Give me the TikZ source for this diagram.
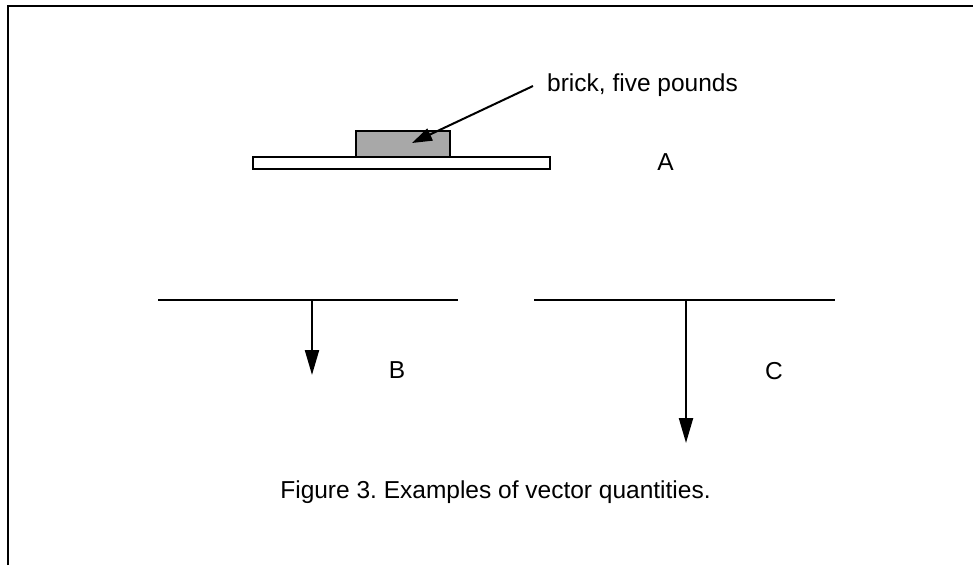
\documentclass[tikz,border=0pt]{standalone}
\usepackage{fontspec}
\setmainfont{Liberation Sans}
\usetikzlibrary{arrows.meta}
\definecolor{brickgray}{HTML}{A8A8A8}
\frenchspacing
\tikzset{
  lbl/.style={inner sep=0pt, font=\fontsize{24.5}{28}\selectfont},
  boxshape/.style={draw=black, line width=2pt, inner sep=0pt, rectangle},
  vec/.style={line width=2.2pt, -{Triangle[length=25pt,width=14pt]}},
  ground/.style={line width=2.2pt},
  frameline/.style={line width=2.2pt}
}
\begin{document}
\begin{tikzpicture}[x=1pt,y=-1pt]
\useasboundingbox (0,0) rectangle (973,565);
% frame
\coordinate (f1) at (8,565);
\coordinate (f2) at (8,6);
\coordinate (f3) at (973,6);
\draw[frameline] (f1) -- (f2) -- (f3);
% A
\node[boxshape, fill=white, minimum width=297pt, minimum height=12pt] (plank) at (401.5,163) {};
\node[boxshape, fill=brickgray, minimum width=94pt, minimum height=26pt] (brick) at (403,144) {};
\node[lbl, anchor=west] (bricklbl) at (547,85) {brick, five pounds};
\coordinate (bs) at (533,86);
\coordinate (bt) at (412,143);
\draw[line width=2pt, -{Triangle[length=20pt,width=13pt]}] (bs) -- (bt);
\node[lbl] (A) at (665.5,162) {A};
% B
\coordinate (b1) at (158,300);
\coordinate (b2) at (458,300);
\coordinate (bm) at (312,300);
\coordinate (bend) at (312,375);
\draw[ground] (b1) -- (b2);
\draw[vec] (bm) -- (bend);
\node[lbl] (B) at (397,370) {B};
% C
\coordinate (c1) at (534,300);
\coordinate (c2) at (835,300);
\coordinate (cm) at (686,300);
\coordinate (cend) at (686,443);
\draw[ground] (c1) -- (c2);
\draw[vec] (cm) -- (cend);
\node[lbl] (C) at (774,371) {C};
% caption
\node[lbl] (cap) at (495.5,492) {Figure 3. Examples of vector quantities.};
\end{tikzpicture}
\end{document}
